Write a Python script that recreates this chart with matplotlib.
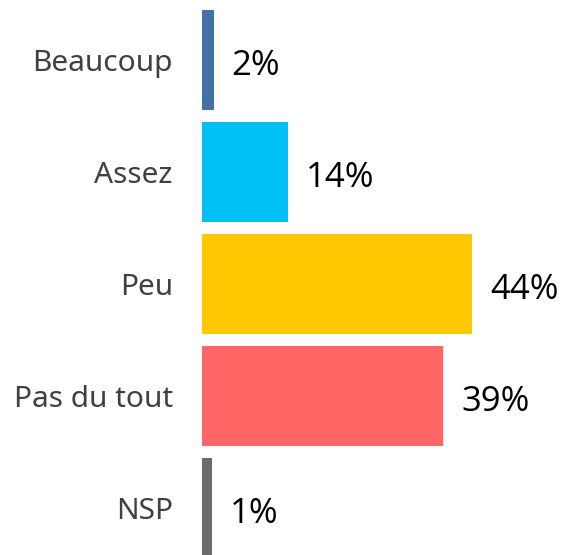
import matplotlib.pyplot as plt

categories = ["Beaucoup", "Assez", "Peu", "Pas du tout", "NSP"]
values = [1.9, 14, 44, 39.3, 1.6]
value_labels = ["2%", "14%", "44%", "39%", "1%"]
colors = ["#4472a4", "#00bff3", "#ffc800", "#ff6666", "#6b6b6b"]

fig = plt.figure(figsize=(5.63, 5.55), dpi=100)
ax = fig.add_axes([202 / 563, 0, 361 / 563, 1])

pos = list(range(len(categories)))
ax.barh(pos, values, height=0.89, color=colors)

for p, v, lab in zip(pos, values, value_labels):
    ax.annotate(lab, (v, p), xytext=(13, -4), textcoords="offset points",
                ha="left", va="center", fontsize=25, family="Open Sans",
                color="black")

ax.set_xlim(0, 361 / 6.14)
ax.set_ylim(4.42, -0.536)
ax.set_yticks(pos)
ax.set_yticklabels(categories, fontsize=21.5, family="Noto Sans", color="#404040")
ax.tick_params(axis="y", length=0, pad=21)
ax.set_xticks([])
for s in ax.spines.values():
    s.set_visible(False)

fig.savefig("out.png", dpi=100)
